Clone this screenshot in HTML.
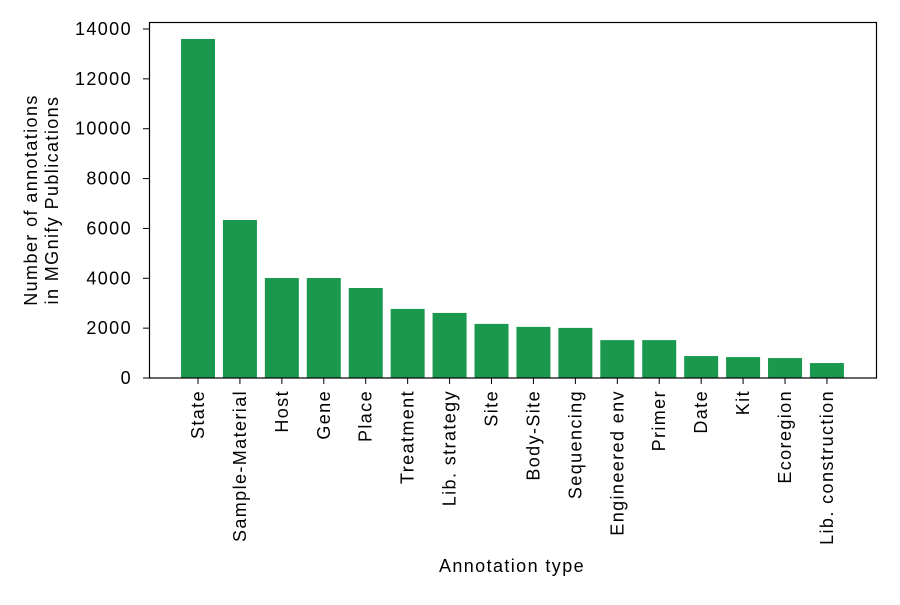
<!DOCTYPE html>
<html><head><meta charset="utf-8"><style>
body{margin:0;background:#fff;}
svg text{font-family:"Liberation Sans",sans-serif;fill:#000;font-size:18px;letter-spacing:1.4px;}
</style></head><body>
<svg id="chart" width="900" height="600" xmlns="http://www.w3.org/2000/svg">
<rect x="0" y="0" width="900" height="600" fill="#fff"/>
<g id="bars"></g><g id="yticks"></g><g id="xticks"></g>
<rect x="149.5" y="22.5" width="727" height="355.5" fill="none" stroke="#000" stroke-width="1.2"/>
<text x="512" y="572" text-anchor="middle">Annotation type</text>
<text transform="translate(37,200) rotate(-90)" text-anchor="middle"><tspan x="0" dy="0">Number of annotations</tspan><tspan x="0" dy="21">in MGnify Publications</tspan></text>
</svg>
<script>
const categories=["State","Sample-Material","Host","Gene","Place","Treatment","Lib. strategy","Site","Body-Site","Sequencing","Engineered env","Primer","Date","Kit","Ecoregion","Lib. construction"];
const values=[13600,6340,4010,4010,3610,2770,2610,2170,2050,2010,1520,1520,880,840,800,600];
const yTicks=[0,2000,4000,6000,8000,10000,12000,14000];
const NS="http://www.w3.org/2000/svg";
const y0=378,pxPer=349/14000;
function y(v){return y0-v*pxPer;}
function x(i){return 198+i*41.93;}
const bw=34;
const bars=document.getElementById('bars'),yt=document.getElementById('yticks'),xt=document.getElementById('xticks');
categories.forEach((c,i)=>{
 const r=document.createElementNS(NS,'rect');
 r.setAttribute('x',x(i)-bw/2);r.setAttribute('y',y(values[i]));
 r.setAttribute('width',bw);r.setAttribute('height',y0-y(values[i]));
 r.setAttribute('fill','#1a994e');
 
 
 bars.appendChild(r);
 const l=document.createElementNS(NS,'line');
 l.setAttribute('x1',x(i));l.setAttribute('x2',x(i));l.setAttribute('y1',378);l.setAttribute('y2',384);l.setAttribute('stroke','#000');
 
 
 xt.appendChild(l);
 const t=document.createElementNS(NS,'text');
 t.setAttribute('transform','translate('+(x(i)+6)+',390) rotate(-90)');
 t.setAttribute('text-anchor','end');
 t.textContent=c;
 
 
 xt.appendChild(t);
});
yTicks.forEach(v=>{
 const l=document.createElementNS(NS,'line');
 l.setAttribute('x1',143);l.setAttribute('x2',149);l.setAttribute('y1',y(v));l.setAttribute('y2',y(v));l.setAttribute('stroke','#000');
 
 
 yt.appendChild(l);
 const t=document.createElementNS(NS,'text');
 t.setAttribute('x',132);t.setAttribute('y',y(v)+6);t.setAttribute('text-anchor','end');
 t.textContent=v;
 
 
 yt.appendChild(t);
});
</script>
</body></html>
